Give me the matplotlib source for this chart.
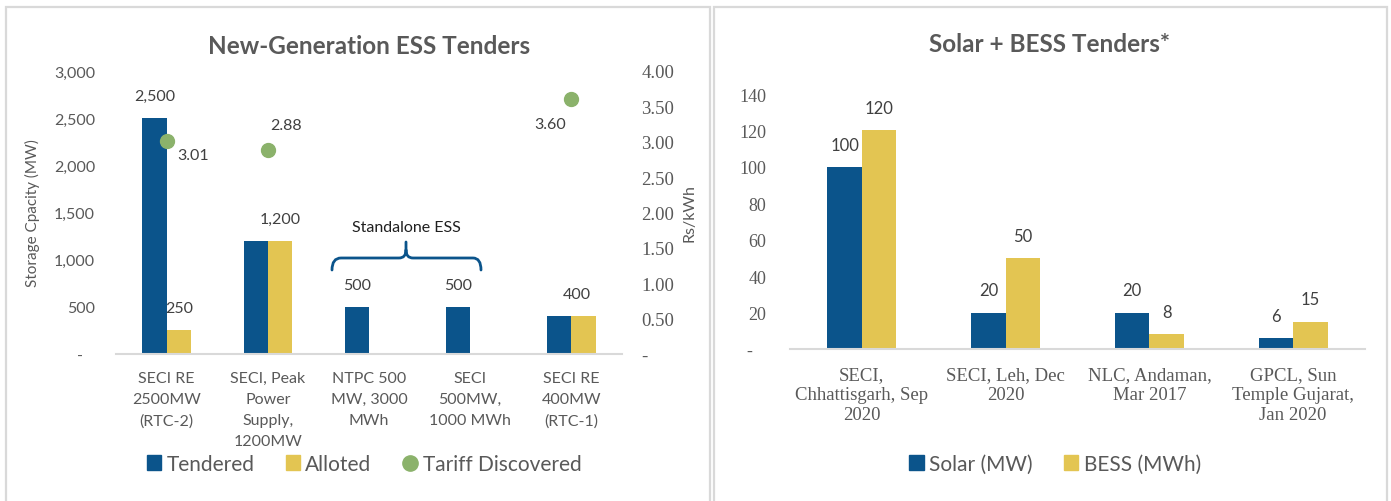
import numpy as np
import matplotlib
matplotlib.use('Agg')
import matplotlib.pyplot as plt
from matplotlib.patches import Patch, Rectangle, PathPatch
from matplotlib.lines import Line2D
from matplotlib.path import Path
from matplotlib.ticker import FuncFormatter

# left chart data
ess_cats = ['SECI RE\n2500MW\n(RTC-2)', 'SECI, Peak\nPower\nSupply,\n1200MW',
            'NTPC 500\nMW, 3000\nMWh', 'SECI\n500MW,\n1000 MWh', 'SECI RE\n400MW\n(RTC-1)']
tendered = [2500, 1200, 500, 500, 400]
alloted = [250, 1200, 0, 0, 400]
tariff = [3.01, 2.88, np.nan, np.nan, 3.60]

# right chart data
sb_cats = ['SECI,\nChhattisgarh, Sep\n2020', 'SECI, Leh, Dec\n2020',
           'NLC, Andaman,\nMar 2017', 'GPCL, Sun\nTemple Gujarat,\nJan 2020']
solar = [100, 20, 20, 6]
bess = [120, 50, 8, 15]

BLUE = '#0B548B'
YELLOW = '#E3C552'
GREEN = '#8BB26B'
GREY = '#595959'
DARK = '#404040'
SANS = ['Lato', 'DejaVu Sans']
SERIF = ['Liberation Serif', 'DejaVu Serif']

W, H = 1391, 502
fig = plt.figure(figsize=(W / 100, H / 100), dpi=100)

def px(x0, y0, x1, y1):
    # pixel box (top-left origin) -> figure fraction rect
    return [x0 / W, (H - y1) / H, (x1 - x0) / W, (y1 - y0) / H]

def fxy(x, y):
    return x / W, (H - y) / H

# panel borders
for x0, x1 in [(6, 710), (714, 1387)]:
    fig.patches.append(Rectangle(fxy(x0, 540), (x1 - x0) / W, (540 - 8) / H,
                                 transform=fig.transFigure, fill=False,
                                 edgecolor='#D9D9D9', linewidth=1.6))

bw = 0.24

# ---------- left chart ----------
ax = fig.add_axes(px(116, 72, 622, 355))
x = np.arange(len(ess_cats))
ax.bar(x - bw / 2, tendered, bw, color=BLUE)
ax.bar(x + bw / 2, alloted, bw, color=YELLOW)
ax.set_xlim(-0.5, len(ess_cats) - 0.5)
ax.set_ylim(0, 3000)
ax.set_yticks(np.arange(0, 3001, 500))
ax.yaxis.set_major_formatter(FuncFormatter(lambda v, p: '-   ' if v == 0 else f'{v:,.0f}'))
ax.set_xticks(x)
ax.set_xticklabels(ess_cats, family=SANS, fontsize=11.5, color=GREY, linespacing=1.65)
for lab in ax.get_yticklabels():
    lab.set_family(SANS)
ax.tick_params(axis='y', length=0, pad=15, labelsize=11.5, labelcolor=GREY)
ax.tick_params(axis='x', length=0, pad=12)
for s in ['top', 'right', 'left']:
    ax.spines[s].set_visible(False)
ax.spines['bottom'].set_color('#D9D9D9')
ax.spines['bottom'].set_linewidth(1.5)
ax.set_ylabel('Storage Cpacity (MW)', family=SANS, fontsize=11, color=GREY, labelpad=10)
ax.set_title('New-Generation ESS Tenders', family=SANS, fontsize=17.5,
             fontweight='bold', color=GREY, pad=13)

# data labels
lab_pos = [(0 - bw / 2, tendered[0]), (0 + bw / 2, alloted[0]), (1 + bw / 2, alloted[1]),
           (2 - bw / 2, tendered[2]), (3 - bw / 2, tendered[3]), (4 + 0.05, alloted[4])]
for xp, v in lab_pos:
    ax.annotate(f'{v:,.0f}', (xp, v), xytext=(0, 16), textcoords='offset points',
                ha='center', va='center', family=SANS, fontsize=11.5, color=DARK)

ax2 = ax.twinx()
ax2.plot(x, tariff, 'o', color=GREEN, markersize=10)
ax2.set_ylim(0, 4)
ax2.set_yticks(np.arange(0, 4.01, 0.5))
ax2.yaxis.set_major_formatter(FuncFormatter(lambda v, p: '-' if v == 0 else f'{v:.2f}'))
for lab in ax2.get_yticklabels():
    lab.set_family(SERIF)
ax2.tick_params(axis='y', length=0, pad=14, labelsize=13.5, labelcolor=GREY)
for s in ax2.spines.values():
    s.set_visible(False)
ax2.set_ylabel('Rs/kWh', family=SANS, fontsize=11.5, color=GREY, labelpad=6)

tariff_off = [(19, -10), (13, 18), None, None, (-15, -18)]
for i, t in enumerate(tariff):
    if np.isnan(t):
        continue
    ax2.annotate(f'{t:.2f}', (x[i], t), xytext=tariff_off[i], textcoords='offset points',
                 ha='center', va='center', family=SANS, fontsize=11.5, color=DARK)

# standalone ESS brace
verts = [fxy(332, 271), fxy(332, 259), fxy(341, 259), fxy(399, 259), fxy(406, 259), fxy(406, 251),
         fxy(406, 243),
         fxy(406, 251), fxy(406, 259), fxy(413, 259), fxy(473, 259), fxy(481, 259), fxy(481, 271)]
codes = [Path.MOVETO, Path.CURVE3, Path.CURVE3, Path.LINETO, Path.CURVE3, Path.CURVE3,
         Path.LINETO,
         Path.MOVETO, Path.CURVE3, Path.CURVE3, Path.LINETO, Path.CURVE3, Path.CURVE3]
fig.patches.append(PathPatch(Path(verts, codes), transform=fig.transFigure, fill=False,
                             edgecolor=BLUE, linewidth=2, capstyle='round'))
fig.text(*fxy(406, 228), 'Standalone ESS', family=SANS, fontsize=11.5, color='#202020',
         ha='center', va='center')

fig.legend(handles=[Patch(color=BLUE, label='Tendered'), Patch(color=YELLOW, label='Alloted'),
                    Line2D([], [], marker='o', ls='none', color=GREEN, markersize=11,
                           label='Tariff Discovered')],
           loc='center', bbox_to_anchor=fxy(364, 465), ncol=3, frameon=False,
           prop={'family': SANS, 'size': 15}, labelcolor=GREY,
           handlelength=0.7, handleheight=0.7, handletextpad=0.25, columnspacing=1.5)

# ---------- right chart ----------
bx = fig.add_axes(px(790, 95, 1365, 350))
x2 = np.arange(len(sb_cats))
b1 = bx.bar(x2 - bw / 2, solar, bw, color=BLUE)
b2 = bx.bar(x2 + bw / 2, bess, bw, color=YELLOW)
bx.set_xlim(-0.5, len(sb_cats) - 0.5)
bx.set_ylim(0, 140)
bx.set_yticks(np.arange(0, 141, 20))
bx.yaxis.set_major_formatter(FuncFormatter(lambda v, p: '-   ' if v == 0 else f'{v:.0f}'))
bx.set_xticks(x2)
bx.set_xticklabels(sb_cats, family=SERIF, fontsize=13.5, color=GREY, linespacing=1.25)
for lab in bx.get_yticklabels():
    lab.set_family(SERIF)
bx.tick_params(axis='y', length=0, pad=17, labelsize=13, labelcolor=GREY)
bx.tick_params(axis='x', length=0, pad=12)
for s in ['top', 'right', 'left']:
    bx.spines[s].set_visible(False)
bx.spines['bottom'].set_color('#D9D9D9')
bx.spines['bottom'].set_linewidth(1.5)
for bars, vals in [(b1, solar), (b2, bess)]:
    for r, v in zip(bars, vals):
        bx.annotate(f'{v}', (r.get_x() + r.get_width() / 2, v), xytext=(0, 16),
                    textcoords='offset points', ha='center', va='center',
                    family=SANS, fontsize=12, color=DARK)
fig.text(*fxy(1050, 45), 'Solar + BESS Tenders*', family=SANS, fontsize=17.5,
         fontweight='bold', color=GREY, ha='center', va='center')

fig.legend(handles=[Patch(color=BLUE, label='Solar (MW)'), Patch(color=YELLOW, label='BESS (MWh)')],
           loc='center', bbox_to_anchor=fxy(1055, 465), ncol=2, frameon=False,
           prop={'family': SANS, 'size': 15}, labelcolor=GREY,
           handlelength=0.7, handleheight=0.7, handletextpad=0.25, columnspacing=1.5)

fig.savefig('out.png', dpi=100)
